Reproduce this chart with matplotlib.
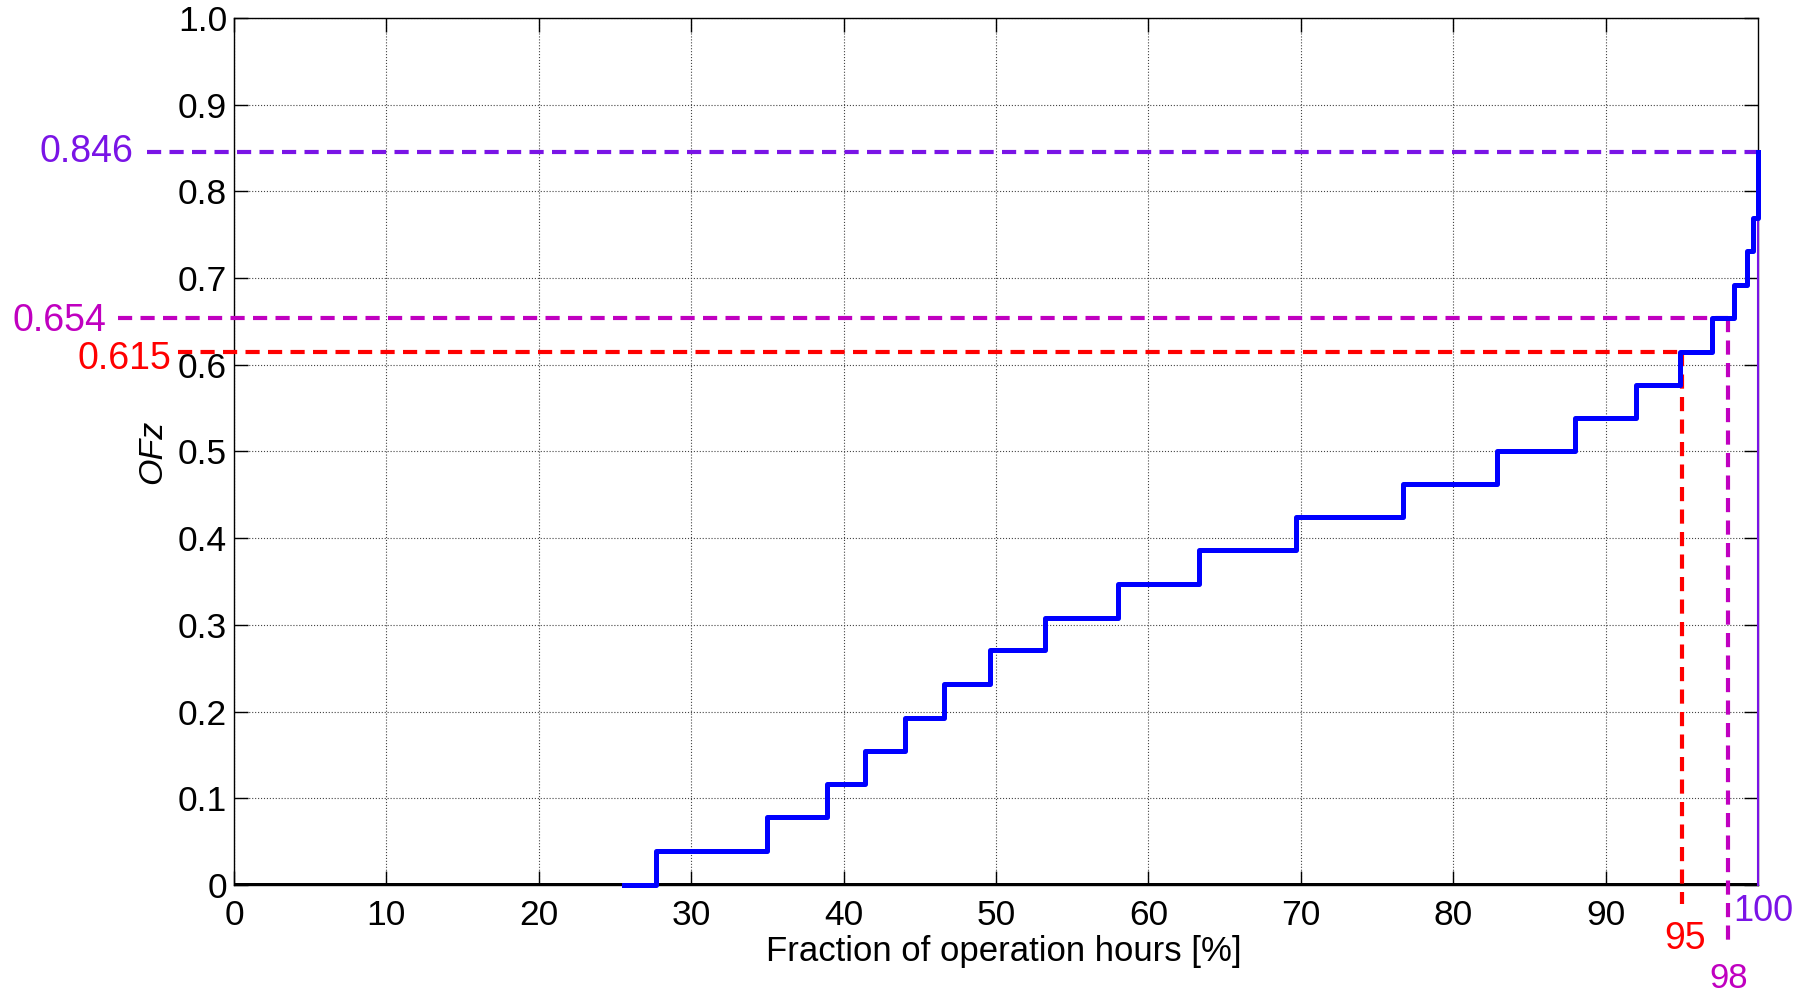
import matplotlib
matplotlib.use("Agg")
import matplotlib.pyplot as plt

# step curve: fraction of operation hours [%] vs OFz level
frac = [25.6, 27.7, 35.0, 38.9, 41.4, 44.0, 46.6, 49.6, 53.2, 58.0, 63.3,
        69.7, 76.7, 82.9, 88.0, 92.0, 94.9, 97.0, 98.4, 99.3, 99.7, 100.0]
ofz = [0.0, 0.039, 0.078, 0.117, 0.155, 0.193, 0.232, 0.271, 0.308, 0.347,
       0.386, 0.424, 0.462, 0.500, 0.539, 0.577, 0.615, 0.654, 0.692, 0.731,
       0.769, 0.846]

# reference markers (percentile, OFz value, label colour)
ref_pct = [95, 98, 100]
ref_val = [0.615, 0.654, 0.846]
ref_color = ["#ff0000", "#c000c0", "#7a14e6"]

xticks = [0, 10, 20, 30, 40, 50, 60, 70, 80, 90]
xtick_labels = ["0", "10", "20", "30", "40", "50", "60", "70", "80", "90"]
yticks = [0, 0.1, 0.2, 0.3, 0.4, 0.5, 0.6, 0.7, 0.8, 0.9, 1.0]
ytick_labels = ["0", "0.1", "0.2", "0.3", "0.4", "0.5", "0.6", "0.7", "0.8", "0.9", "1.0"]

plt.rcParams["font.family"] = ["Liberation Sans", "DejaVu Sans"]

fig = plt.figure(figsize=(18.1, 9.94), dpi=100)
ax = fig.add_axes([0.1293, 0.1097, 0.842, 0.8722])

ax.set_xlim(0, 100)
ax.set_ylim(0, 1)
ax.set_xticks(xticks)
ax.set_xticklabels(xtick_labels)
ax.set_yticks(yticks)
ax.set_yticklabels(ytick_labels)
ax.tick_params(direction="in", length=10, width=1, labelsize=25.5,
               top=True, right=True)
ax.tick_params(axis="x", pad=10)
ax.tick_params(axis="y", pad=5)
ax.grid(True, color="#444444", linestyle=":", linewidth=0.8)
for sp in ax.spines.values():
    sp.set_linewidth(1.0)

# thick zero line
ax.axhline(0, color="black", lw=3.6, zorder=3)

# purple line along x=100
ax.plot([100, 100], [0, ref_val[2]], color=ref_color[2], lw=1.5, zorder=3, clip_on=False)

# dashed reference lines
dash = (0, (3.4, 2.0))
ax.plot([-5.7, 100], [ref_val[2]] * 2, color=ref_color[2], lw=3, ls=dash,
        clip_on=False, zorder=4)
ax.plot([-7.6, ref_pct[1]], [ref_val[1]] * 2, color=ref_color[1], lw=3, ls=dash,
        clip_on=False, zorder=4)
ax.plot([ref_pct[1]] * 2, [ref_val[1], -0.072], color=ref_color[1], lw=3, ls=dash,
        clip_on=False, zorder=4)
ax.plot([-3.7, ref_pct[0]], [ref_val[0]] * 2, color=ref_color[0], lw=3, ls=dash,
        clip_on=False, zorder=4)
ax.plot([ref_pct[0]] * 2, [ref_val[0], -0.022], color=ref_color[0], lw=3, ls=dash,
        clip_on=False, zorder=4)

# step curve
ax.step(frac, ofz, where="post", color="#0000ff", lw=3.6, zorder=5, clip_on=False)

# value labels
ax.text(-6.6, ref_val[2], "0.846", color=ref_color[2], fontsize=27,
        ha="right", va="center")
ax.text(-8.4, ref_val[1] - 0.004, "0.654", color=ref_color[1], fontsize=27,
        ha="right", va="center")
ax.text(-4.1, ref_val[0] - 0.008, "0.615", color=ref_color[0], fontsize=27,
        ha="right", va="center")
ax.text(ref_pct[0] + 0.2, -0.062, "95", color=ref_color[0], fontsize=27,
        ha="center", va="center")
ax.text(ref_pct[1] + 0.1, -0.108, "98", color=ref_color[1], fontsize=25,
        ha="center", va="center")
ax.text(ref_pct[2] + 0.35, -0.031, "100", color=ref_color[2], fontsize=26,
        ha="center", va="center")

ax.set_xlabel("Fraction of operation hours [%]", fontsize=25)
ax.xaxis.set_label_coords(0.505, -0.058)
ax.set_ylabel("OFz", fontsize=24.5, style="italic", labelpad=7)

fig.savefig("out.png", dpi=100)
